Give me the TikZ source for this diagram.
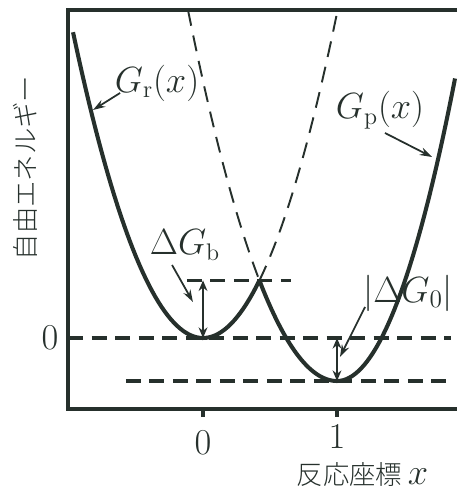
\documentclass[tikz,border=0pt]{standalone}
\usepackage{fontspec}
\newfontfamily\jpfont{Noto Sans CJK JP Light}
\usetikzlibrary{arrows.meta}
\definecolor{ink}{RGB}{38,48,44}

\begin{document}
\begin{tikzpicture}[x=2.68cm, y=1cm,
  curve/.style={ink, line width=2.3pt},
  guide/.style={ink, line width=1.8pt, dash pattern=on 0.3cm off 0.17cm},
  ghost/.style={ink, line width=1.1pt, dash pattern=on 0.32cm off 0.2cm},
  pointer/.style={ink, line width=1pt, -{Stealth[length=7pt,width=4.5pt]}},
  gap/.style={ink, line width=1.3pt, {Stealth[length=6pt,width=5pt]}-{Stealth[length=6pt,width=5pt]}},
  lbl/.style={text=ink, font=\fontsize{19.5}{22}\selectfont, inner sep=0pt},
  jp/.style={text=ink, font=\jpfont\fontsize{15}{17}\selectfont, inner sep=0pt}]
  \useasboundingbox (-1.515,-3.12) rectangle (1.896,6.76);
  % Frame
  \draw[ink, line width=1.8pt] (1.896,6.56) -- (-1.007,6.56) -- (-1.007,-1.42) -- (1.896,-1.42);
  \foreach \t in {0,1} \draw[ink, line width=1.8pt] (\t,-1.42) -- (\t,-1.58);
  \node[lbl] (x0) at (0,-2.1) {$0$};
  \node[lbl] (x1) at (1,-1.98) {$1$};
  \node[lbl] (y0) at (-1.142,0) {$0$};
  \node[jp] (xlab) at (1.19,-2.74) {反応座標 {\fontsize{19.5}{22}\selectfont$x$}};
  \node[jp, rotate=90] (ylab) at (-1.328,3.4) {自由エネルギー};
  % Levels
  \draw[guide] (-1.007,0) -- (1.85,0);
  \draw[guide] (-0.12,1.152) -- (0.66,1.152);
  \draw[guide] (-0.575,-0.86) -- (1.82,-0.86);
  % Free energy curves
  \draw[ghost] plot[domain=0.421:1.0046, samples=40] (\x,{6.5*\x*\x});
  \draw[ghost] plot[domain=-0.112:0.421, samples=40] (\x,{6*(\x-1)^2-0.86});
  \draw[curve] plot[domain=-0.97:0.421, samples=60] (\x,{6.5*\x*\x});
  \draw[curve] plot[domain=0.421:1, samples=40] (\x,{6*(\x-1)^2-0.86})
    -- plot[domain=1:1.881, samples=40] (\x,{7.8*(\x-1)^2-0.86});
  % Gaps
  \coordinate (rmin) at (0,0);
  \coordinate (bar) at (0,1.152);
  \coordinate (pzero) at (1,0);
  \coordinate (pmin) at (1,-0.86);
  \draw[gap] (rmin) -- (bar);
  \draw[gap] (pmin) -- (pzero);
  % Labels
  \node[lbl] (lblGr) at (-0.343,5.1) {$G_{\mathrm{r}}(x)$};
  \node[lbl] (lblGp) at (1.321,4.56) {$G_{\mathrm{p}}(x)$};
  \node[lbl] (lblGb) at (-0.134,1.86) {$\Delta G_{\mathrm{b}}$};
  \node[lbl] (lblG0) at (1.53,0.9) {$|\Delta G_0|$};
  \coordinate (tGr) at (-0.821,4.56);
  \coordinate (tGp) at (1.709,3.62);
  \coordinate (tGb) at (-0.075,0.72);
  \coordinate (tG0) at (1.022,-0.38);
  \draw[pointer] (-0.619,4.9) -- (tGr);
  \draw[pointer] (1.358,4.1) -- (tGp);
  \draw[pointer] (-0.231,1.46) -- (tGb);
  \draw[pointer] (1.209,0.62) -- (tG0);
\end{tikzpicture}
\end{document}
